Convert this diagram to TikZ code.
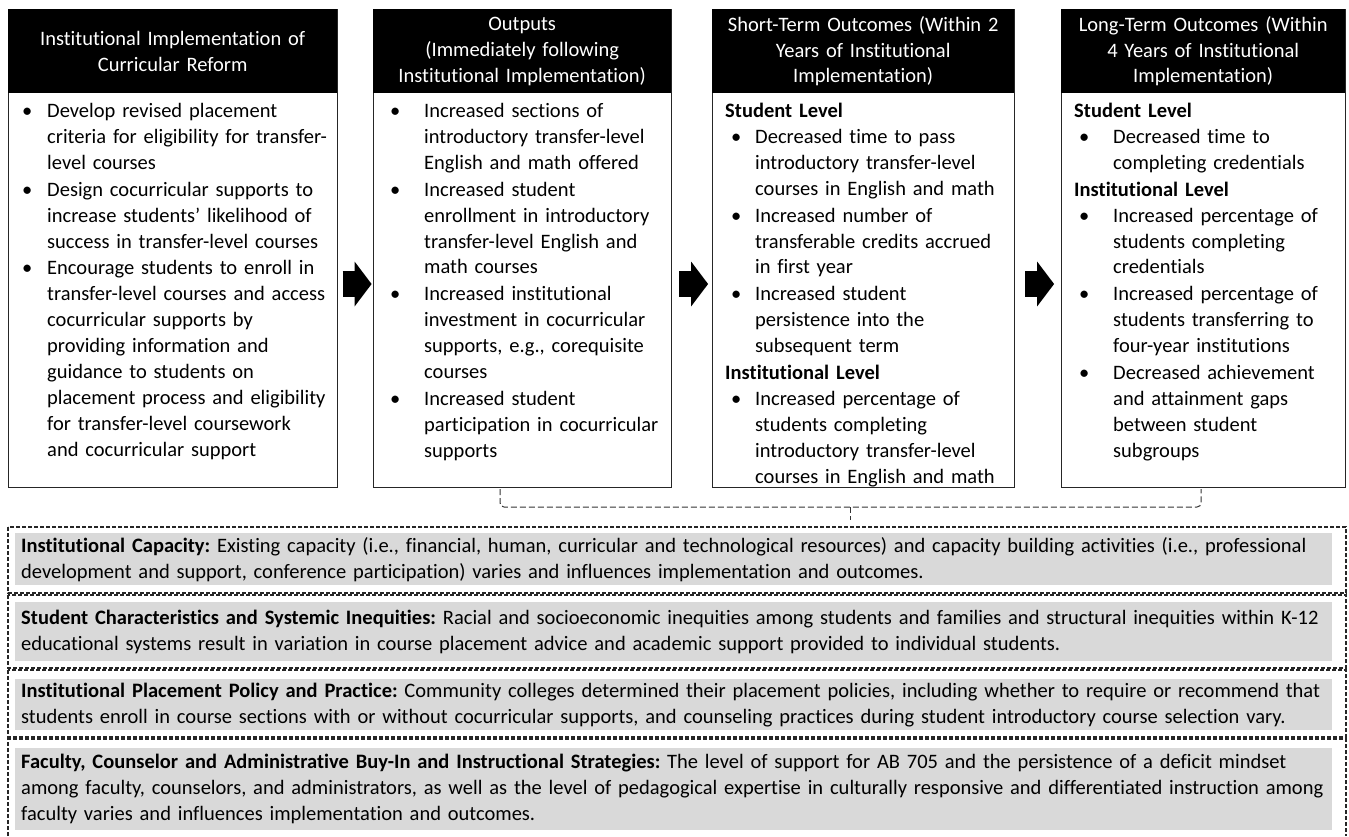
\documentclass[tikz,border=0pt]{standalone}
\usepackage{fontspec}
\setmainfont{Carlito}[Ligatures={TeX,NoCommon}]
\frenchspacing
\usetikzlibrary{positioning,calc,arrows.meta}
\definecolor{ShadeGray}{RGB}{217,217,217}
% hanging bullet items and bold level headings inside the panels
\newlength\bulx
\newlength\txtx
\newcommand\bitem[1]{\par\noindent
  \hbox to \txtx{\hspace*{\bulx}\textbullet\hfil}%
  \parbox[t]{\dimexpr\hsize-\txtx\relax}{\raggedright\strut#1\strut}}
\newcommand\lvl[1]{\par\noindent\hspace*{13pt}\strut\textbf{#1}}
\tikzset{
  panel/.style={draw=black!85,line width=1.2pt,anchor=north west,inner sep=0pt},
  head/.style={fill=black,text=white,anchor=north west,inner sep=0pt,align=center},
  body/.style 2 args={anchor=north west,inner sep=0pt,align=left,
    execute at begin node={\setlength\bulx{#1pt}\setlength\txtx{#2pt}}},
  fat/.style={line width=26pt,-{Triangle[width=44pt,length=17pt]}},
  brace/.style={draw=black!80,line width=1pt,dash pattern=on 6pt off 3pt,rounded corners=4pt},
  frame/.style={draw=black!85,line width=1.1pt,dash pattern=on 4pt off 2pt},
  factor/.style={fill=ShadeGray,anchor=north west,inner xsep=6pt,inner ysep=0pt,
    text width=1305pt,align=left},
}

\begin{document}
\begin{tikzpicture}[x=1pt,y=-1pt,font=\fontsize{20.5pt}{25.9pt}\selectfont]
\useasboundingbox (0,0) rectangle (1349,836);

% the four columns
\node[panel,minimum width=329,minimum height=478] (p1) at (8,9) {};
\node[panel,minimum width=298,minimum height=478] (p2) at (373,9) {};
\node[panel,minimum width=302,minimum height=478] (p3) at (712,9) {};
\node[panel,minimum width=284,minimum height=478] (p4) at (1061,9) {};

\node[head,minimum width=329,minimum height=84,text width=321] (h1) at (p1.north west)
  {Institutional Implementation of\\Curricular Reform};
\node[head,minimum width=298,minimum height=84,text width=290] (h2) at (p2.north west)
  {Outputs\\(Immediately following\\Institutional Implementation)};
\node[head,minimum width=302,minimum height=84,text width=294] (h3) at (p3.north west)
  {Short-Term Outcomes (Within 2\\Years of Institutional\\Implementation)};
\node[head,minimum width=284,minimum height=84,text width=276] (h4) at (p4.north west)
  {Long-Term Outcomes (Within\\4 Years of Institutional\\Implementation)};

\node[body={14}{39},text width=329] (t1) at ([yshift=2pt]h1.south west) {%
  \bitem{Develop revised placement\\criteria for eligibility for transfer-\\level courses}
  \bitem{Design cocurricular supports to\\increase students’ likelihood of\\success in transfer-level courses}
  \bitem{Encourage students to enroll in\\transfer-level courses and access\\cocurricular supports by\\providing information and\\guidance to students on\\placement process and eligibility\\for transfer-level coursework\\and cocurricular support}};

\node[body={17}{51},text width=298] (t2) at ([yshift=2pt]h2.south west) {%
  \bitem{Increased sections of\\introductory transfer-level\\English and math offered}
  \bitem{Increased student\\enrollment in introductory\\transfer-level English and\\math courses}
  \bitem{Increased institutional\\investment in cocurricular\\supports, e.g., corequisite\\courses}
  \bitem{Increased student\\participation in cocurricular\\supports}};

\node[body={19}{43},text width=302] (t3) at ([yshift=2pt]h3.south west) {%
  \lvl{Student Level}
  \bitem{Decreased time to pass\\introductory transfer-level\\courses in English and math}
  \bitem{Increased number of\\transferable credits accrued\\in first year}
  \bitem{Increased student\\persistence into the\\subsequent term}
  \lvl{Institutional Level}
  \bitem{Increased percentage of\\students completing\\introductory transfer-level\\courses in English and math}};

\node[body={18}{52},text width=284] (t4) at ([yshift=2pt]h4.south west) {%
  \lvl{Student Level}
  \bitem{Decreased time to\\completing credentials}
  \lvl{Institutional Level}
  \bitem{Increased percentage of\\students completing\\credentials}
  \bitem{Increased percentage of\\students transferring to\\four-year institutions}
  \bitem{Decreased achievement\\and attainment gaps\\between student\\subgroups}};

% block arrows between the columns
\coordinate (ay) at (0,284);
\path ($(p1.east |- ay)!0.5!(p2.west |- ay)$) coordinate (m12)
      ($(p2.east |- ay)!0.5!(p3.west |- ay)$) coordinate (m23)
      ($(p3.east |- ay)!0.5!(p4.west |- ay)$) coordinate (m34);
\draw[fat] ([xshift=-13pt]m12) -- ([xshift=16pt]m12);
\draw[fat] ([xshift=-13pt]m23) -- ([xshift=16pt]m23);
\draw[fat] ([xshift=-13pt]m34) -- ([xshift=16pt]m34);

% brace gathering the outcomes
\draw[brace] (500,489) |- (850,507) -| (1201,489);
\draw[brace] (850,507) -- (850,520);

% contextual factors
\draw[frame] (8,527) rectangle (1346,593);
\draw[frame] (8,595) rectangle (1346,668);
\draw[frame] (8,670) rectangle (1346,737);
\draw[frame] (8,836) |- (1346,739) -- (1346,836);

\node[factor,minimum height=52] (f1) at (15,533) {%
  \textbf{Institutional Capacity:} Existing capacity (i.e., financial, human, curricular and technological resources) and capacity building activities (i.e., professional\\
  development and support, conference participation) varies and influences implementation and outcomes.};
\node[factor,minimum height=59] (f2) at (15,602) {%
  \textbf{Student Characteristics and Systemic Inequities:} Racial and socioeconomic inequities among students and families and structural inequities within K-12\\
  educational systems result in variation in course placement advice and academic support provided to individual students.};
\node[factor,minimum height=51] (f3) at (15,679) {%
  \textbf{Institutional Placement Policy and Practice:} Community colleges determined their placement policies, including whether to require or recommend that\\
  students enroll in course sections with or without cocurricular supports, and counseling practices during student introductory course selection vary.};
\node[factor,minimum height=82] (f4) at (15,748) {%
  \textbf{Faculty, Counselor and Administrative Buy-In and Instructional Strategies:} The level of support for AB 705 and the persistence of a deficit mindset\\
  among faculty, counselors, and administrators, as well as the level of pedagogical expertise in culturally responsive and differentiated instruction among\\
  faculty varies and influences implementation and outcomes.};
\end{tikzpicture}
\end{document}
